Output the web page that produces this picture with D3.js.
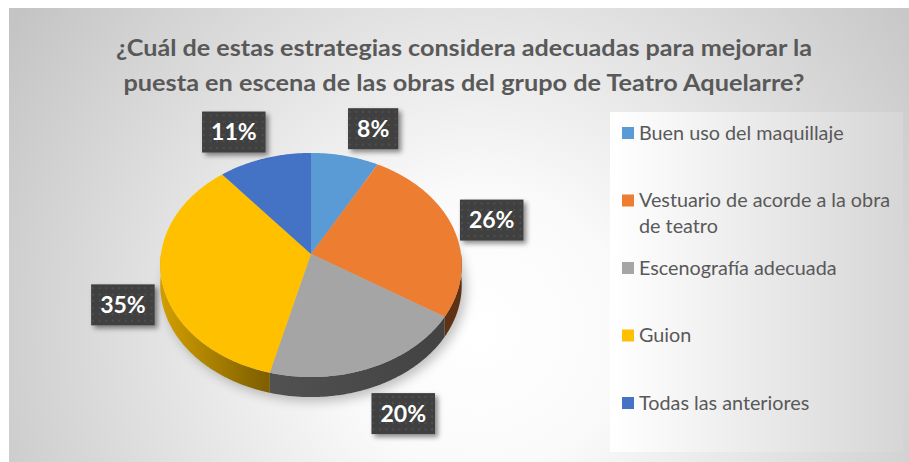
<!DOCTYPE html>
<html lang="es">
<head>
<meta charset="UTF-8">
<title>Teatro Aquelarre</title>
<style>
  body { margin: 0; background: #fff; }
  svg { display: block; }
  text { font-family: Lato, "Noto Sans", sans-serif; }
</style>
</head>
<body>
<svg width="909" height="462"></svg>
<script src="https://d3js.org/d3.v7.min.js"></script>
<script>
const categories = ["Buen uso del maquillaje", "Vestuario de acorde a la obra de teatro",
  "Escenografía adecuada", "Guion", "Todas las anteriores"];
const values = [8, 26, 20, 35, 11];
const colors = ["#5B9BD5", "#ED7D31", "#A5A5A5", "#FFC000", "#4472C4"];
const titleLines = ["¿Cuál de estas estrategias considera adecuadas para mejorar la",
  "puesta en escena de las obras del grupo de Teatro Aquelarre?"];
const legendLines = [["Buen uso del maquillaje"], ["Vestuario de acorde a la obra", "de teatro"],
  ["Escenografía adecuada"], ["Guion"], ["Todas las anteriores"]];

const svg = d3.select("svg");
const defs = svg.append("defs");

// background
const bg = defs.append("radialGradient").attr("id", "bg")
  .attr("gradientUnits", "userSpaceOnUse")
  .attr("cx", 480).attr("cy", 330).attr("r", 560);
bg.append("stop").attr("offset", 0).attr("stop-color", "#ffffff");
bg.append("stop").attr("offset", 0.25).attr("stop-color", "#fafafa");
bg.append("stop").attr("offset", 1).attr("stop-color", "#c4c4c4");

svg.append("rect").attr("x", 9).attr("y", 8).attr("width", 910).attr("height", 470)
  .attr("fill", "url(#bg)");

// legend box
const lg = defs.append("linearGradient").attr("id", "lg");
lg.append("stop").attr("offset", 0).attr("stop-color", "#ffffff");
lg.append("stop").attr("offset", 1).attr("stop-color", "#d6d6d6");
svg.append("rect").attr("x", 610).attr("y", 112).attr("width", 293).attr("height", 340)
  .attr("fill", "url(#lg)");

// title
svg.append("g").selectAll("text").data(titleLines).join("text")
  .attr("x", 464).attr("y", (d, i) => 56 + i * 35)
  .attr("text-anchor", "middle")
  .attr("font-size", 22).attr("font-weight", "bold").attr("fill", "#595959")
  .attr("textLength", (d, i) => i === 0 ? 696 : 681)
  .attr("lengthAdjust", "spacingAndGlyphs")
  .text(d => d);

// pie (perspective tilt)
const cx = 311, cy = 254, B = 150, A = 111, p = 0.098, depth = 20;
function project(a, h) {
  const X = Math.sin(a), Z = Math.cos(a), den = 1 + p * Z;
  return [cx + B * X / den, cy - A * Z / den + h];
}
function arcPts(a0, a1, h) {
  const n = Math.max(2, Math.ceil((a1 - a0) / 0.01));
  return d3.range(n + 1).map(i => project(a0 + (a1 - a0) * i / n, h));
}

const arcs = d3.pie().sort(null).value(d => d)(values);
const line = d3.line();

// shadow under pie
const sh = defs.append("filter").attr("id", "blur").attr("x", "-30%").attr("y", "-30%")
  .attr("width", "160%").attr("height", "160%");
sh.append("feGaussianBlur").attr("stdDeviation", 6);
svg.append("path")
  .attr("d", line(arcPts(0, 2 * Math.PI, depth + 4).map(q => [q[0] + 4, q[1]])) + "Z")
  .attr("fill", "#000").attr("opacity", 0.25).attr("filter", "url(#blur)");

// side gradients
arcs.forEach((d, i) => {
  const g = defs.append("linearGradient").attr("id", "side" + i)
    .attr("gradientUnits", "userSpaceOnUse")
    .attr("x1", cx - B).attr("x2", cx + B).attr("y1", 0).attr("y2", 0);
  const c = d3.color(colors[i]);
  g.append("stop").attr("offset", 0).attr("stop-color", c.darker(0.55));
  g.append("stop").attr("offset", 0.36).attr("stop-color", c.darker(2.0));
  g.append("stop").attr("offset", 1).attr("stop-color", c.darker(2.6));
});

const sides = svg.append("g");
arcs.forEach((d, i) => {
  const a0 = Math.max(d.startAngle, Math.PI / 2), a1 = Math.min(d.endAngle, 3 * Math.PI / 2);
  if (a1 <= a0) return;
  const pts = arcPts(a0, a1, 0).concat(arcPts(a0, a1, depth).reverse());
  sides.append("path").attr("d", line(pts) + "Z").attr("fill", "url(#side" + i + ")");
});

svg.append("g").selectAll("path").data(arcs).join("path")
  .attr("d", d => line([[cx, cy]].concat(arcPts(d.startAngle, d.endAngle, 0))) + "Z")
  .attr("fill", (d, i) => colors[i]);

// data labels
const pat = defs.append("pattern").attr("id", "dots").attr("patternUnits", "userSpaceOnUse")
  .attr("width", 6.5).attr("height", 6.5);
pat.append("rect").attr("width", 6.5).attr("height", 6.5).attr("fill", "#404040");
pat.append("rect").attr("x", 2).attr("y", 2).attr("width", 1.6).attr("height", 1.6).attr("fill", "#555");
const ds = defs.append("filter").attr("id", "boxsh").attr("x", "-30%").attr("y", "-30%")
  .attr("width", "170%").attr("height", "170%");
ds.append("feDropShadow").attr("dx", 3).attr("dy", 3).attr("stdDeviation", 2.5)
  .attr("flood-color", "#000").attr("flood-opacity", 0.45);

const total = d3.sum(values);
const labels = svg.append("g").selectAll("g").data(arcs).join("g")
  .attr("transform", d => {
    const m = (d.startAngle + d.endAngle) / 2;
    const e = project(m, 0);
    const s = Math.sign(Math.sin(m));
    const x = e[0] + 35 * Math.sin(m) + 20 * Math.abs(Math.cos(m)) * s;
    const y = e[1] - 28 * Math.cos(m) + (Math.cos(m) < 0 ? depth : 0);
    return `translate(${x},${y})`;
  });
labels.append("text")
  .attr("text-anchor", "middle").attr("dy", "0.36em")
  .attr("font-size", 23).attr("font-weight", "bold").attr("fill", "#fff")
  .text(d => Math.round(d.data / total * 100) + "%");
labels.each(function() {
  const g = d3.select(this);
  const bb = g.select("text").node().getBBox();
  const w = bb.width + 18, h = 41;
  g.insert("rect", "text").attr("x", -w / 2).attr("y", -h / 2)
    .attr("width", w).attr("height", h)
    .attr("fill", "url(#dots)").attr("filter", "url(#boxsh)");
});

// legend
const ly = d3.scaleLinear().domain([0, 4]).range([133, 403]);
const leg = svg.append("g").selectAll("g").data(categories).join("g")
  .attr("transform", (d, i) => `translate(622,${ly(i)})`);
leg.append("rect").attr("y", -6).attr("width", 12).attr("height", 12)
  .attr("fill", (d, i) => colors[i]);
leg.append("text").attr("x", 17).attr("fill", "#595959").attr("font-size", 19.8)
  .selectAll("tspan").data((d, i) => legendLines[i]).join("tspan")
  .attr("x", 17).attr("y", (t, j) => j * 26).attr("dy", "0.35em")
  .text(t => t);
</script>
</body>
</html>
